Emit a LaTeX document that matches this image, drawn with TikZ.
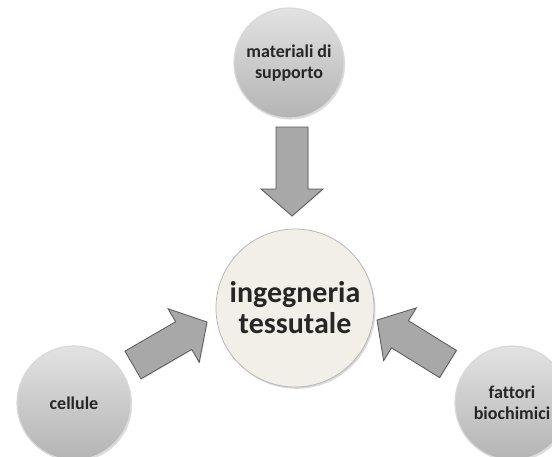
\documentclass[tikz,border=0pt]{standalone}
\usepackage{fontspec}
\setmainfont{Carlito}[Ligatures=NoCommon]
\usetikzlibrary{positioning,calc,shadows}
\definecolor{inkdark}{HTML}{262626}
\definecolor{discgrey}{HTML}{B4B4B4}
\definecolor{discpale}{HTML}{E2E2E2}
\definecolor{coreface}{HTML}{F2EFE9}
\definecolor{arrfill}{HTML}{A8A8A8}
\definecolor{arredge}{HTML}{585858}
\tikzset{
  disc/.style={circle, inner sep=0pt, align=center, text=inkdark,
               font=\fontsize{18}{21}\selectfont\bfseries,
               top color=discpale, bottom color=discgrey,
               draw=white!85!black, line width=1.2pt,
               drop shadow={opacity=0.25, shadow xshift=1.2pt, shadow yshift=-1.6pt}},
  core/.style={circle, inner sep=0pt, align=center, text=inkdark,
               font=\fontsize{30}{31}\selectfont\bfseries,
               fill=coreface, draw=black!28, line width=0.8pt,
               drop shadow={opacity=0.3, shadow xshift=1.5pt, shadow yshift=-1.8pt}},
  fatarr/.style={fill=arrfill, draw=arredge, line width=0.8pt, line join=miter,
                 drop shadow={opacity=0.2, shadow xshift=0.8pt, shadow yshift=-1pt}},
}
% block arrow from tail #1 to tip #2
\newcommand{\fatarrow}[2]{%
  \coordinate (#2h) at ($(#2)!27pt!(#1)$);
  \draw[fatarr] ($(#1)!16pt!90:(#2)$) -- ($(#2h)!16pt!-90:(#1)$) -- ($(#2h)!31pt!-90:(#1)$)
    -- (#2) -- ($(#2h)!31pt!90:(#1)$) -- ($(#2h)!16pt!90:(#1)$) -- ($(#1)!16pt!-90:(#2)$) -- cycle;}

\begin{document}
\begin{tikzpicture}[x=1pt, y=1pt]
  \useasboundingbox (0,0) rectangle (552,-456);
  % the four discs
  \node[core, minimum size=158pt] (tes) at (295,-308) {ingegneria\\tessutale};
  \node[disc, minimum size=110pt] (sup) at (289,-63) {materiali di\\supporto};
  \node[disc, minimum size=114pt] (cel) at (74,-403) {cellule};
  \node[disc, minimum size=114pt] (fat) at (512,-403) {fattori\\biochimici};
  % ends of the block arrows
  \coordinate (suptail) at (292,-127);
  \coordinate (suptip)  at (292,-216);
  \coordinate (celtail) at (133,-365);
  \coordinate (celtip)  at (207,-322);
  \coordinate (fattail) at (448,-364);
  \coordinate (fattip)  at (377,-320);
  \fatarrow{suptail}{suptip}
  \fatarrow{celtail}{celtip}
  \fatarrow{fattail}{fattip}
\end{tikzpicture}
\end{document}
